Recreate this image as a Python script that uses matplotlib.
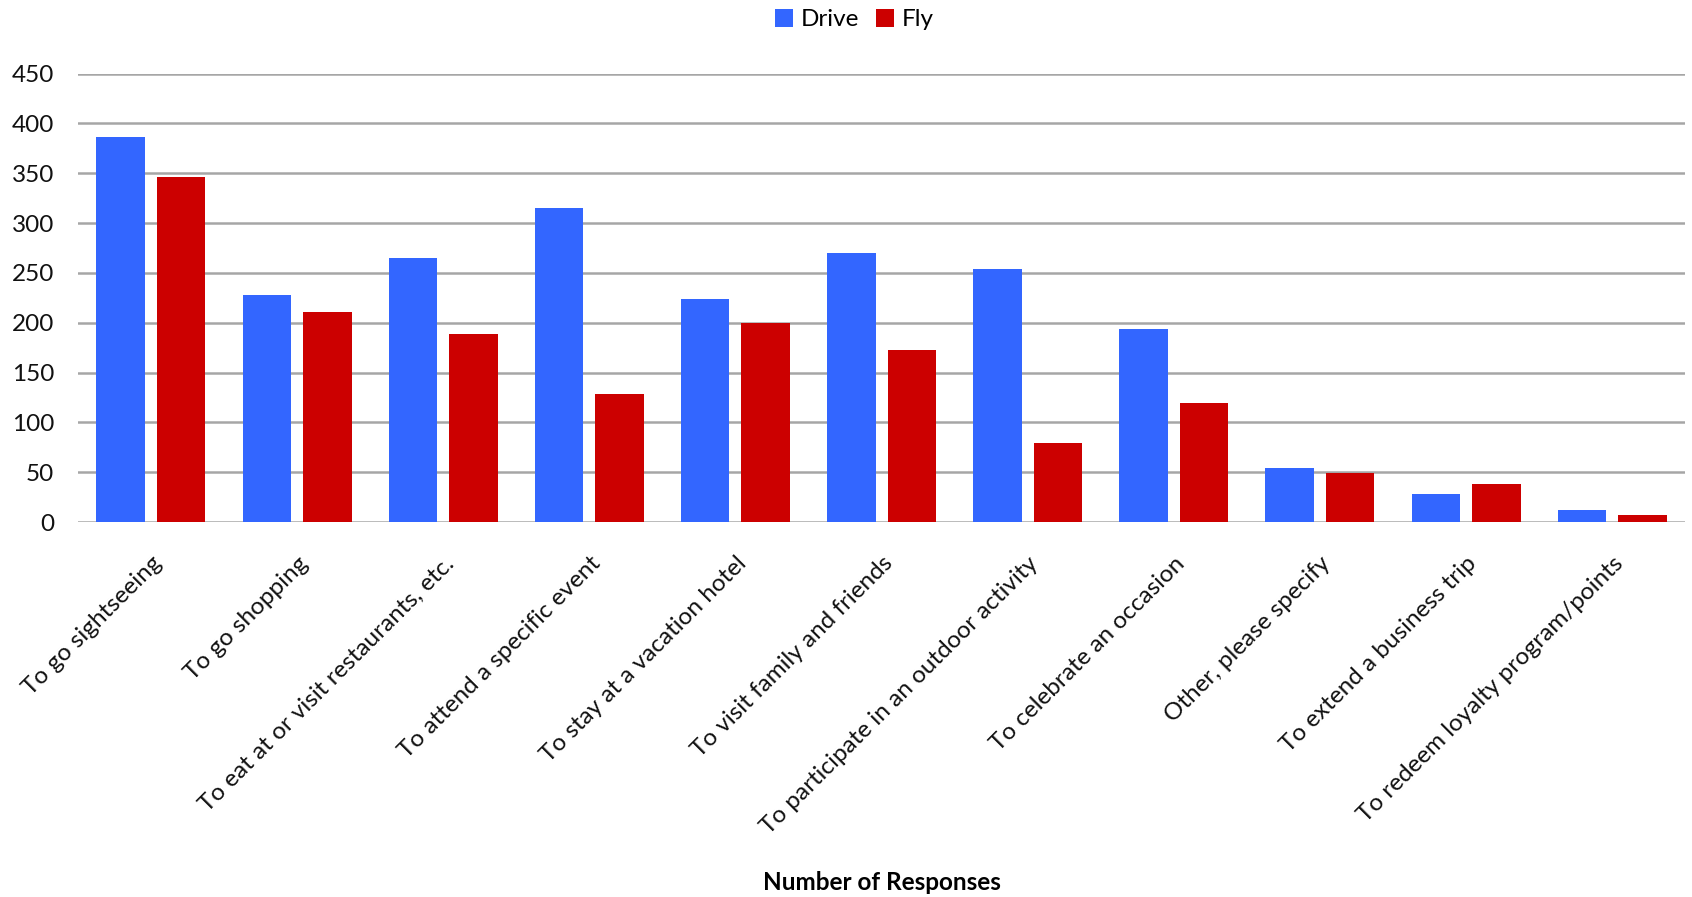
import matplotlib

matplotlib.use("Agg")

import matplotlib.pyplot as plt
import numpy as np

# Survey data
reasons = [
    "To go sightseeing",
    "To go shopping",
    "To eat at or visit restaurants, etc.",
    "To attend a specific event",
    "To stay at a vacation hotel",
    "To visit family and friends",
    "To participate in an outdoor activity",
    "To celebrate an occasion",
    "Other, please specify",
    "To extend a business trip",
    "To redeem loyalty program/points",
]
drive = [386, 228, 265, 315, 224, 270, 254, 194, 54, 28, 12]
fly = [346, 211, 189, 128, 200, 173, 79, 119, 49, 38, 7]
yticks = [0, 50, 100, 150, 200, 250, 300, 350, 400, 450]

plt.rcParams["font.family"] = ["Lato", "DejaVu Sans"]
FS = 17.5

fig = plt.figure(figsize=(16.92, 8.97), dpi=100)
ax = fig.add_axes([0.046, 0.418, 0.950, 0.500])

x = np.arange(len(reasons))
width = 0.332
offset = 0.207
ax.bar(x - offset, drive, width, color="#3366ff", label="Drive", zorder=3)
ax.bar(x + offset, fly, width, color="#cc0000", label="Fly", zorder=3)

ax.set_xlim(-0.5, len(reasons) - 0.5)
ax.set_ylim(0, 450)
ax.set_yticks(yticks)
ax.yaxis.grid(True, color="#a6a6a6", linewidth=1.8, zorder=0)
ax.set_axisbelow(True)
for s in ax.spines.values():
    s.set_visible(False)
ax.tick_params(axis="both", length=0, labelsize=FS, labelcolor="#111111")
ax.tick_params(axis="y", pad=17)

ax.set_xticks(x)
ax.set_xticklabels(reasons, rotation=45, ha="right", rotation_mode="anchor")
ax.tick_params(axis="x", pad=22)

ax.set_xlabel("Number of Responses", fontsize=FS, fontweight="bold", va="center")
ax.xaxis.set_label_coords(0.5, -0.8035)

fig.legend(loc="center", bbox_to_anchor=(0.505, 0.978), ncol=2, frameon=False,
           fontsize=FS, handlelength=0.75, handleheight=0.75, handletextpad=0.3,
           columnspacing=0.7)

fig.savefig("out.png", dpi=100)
